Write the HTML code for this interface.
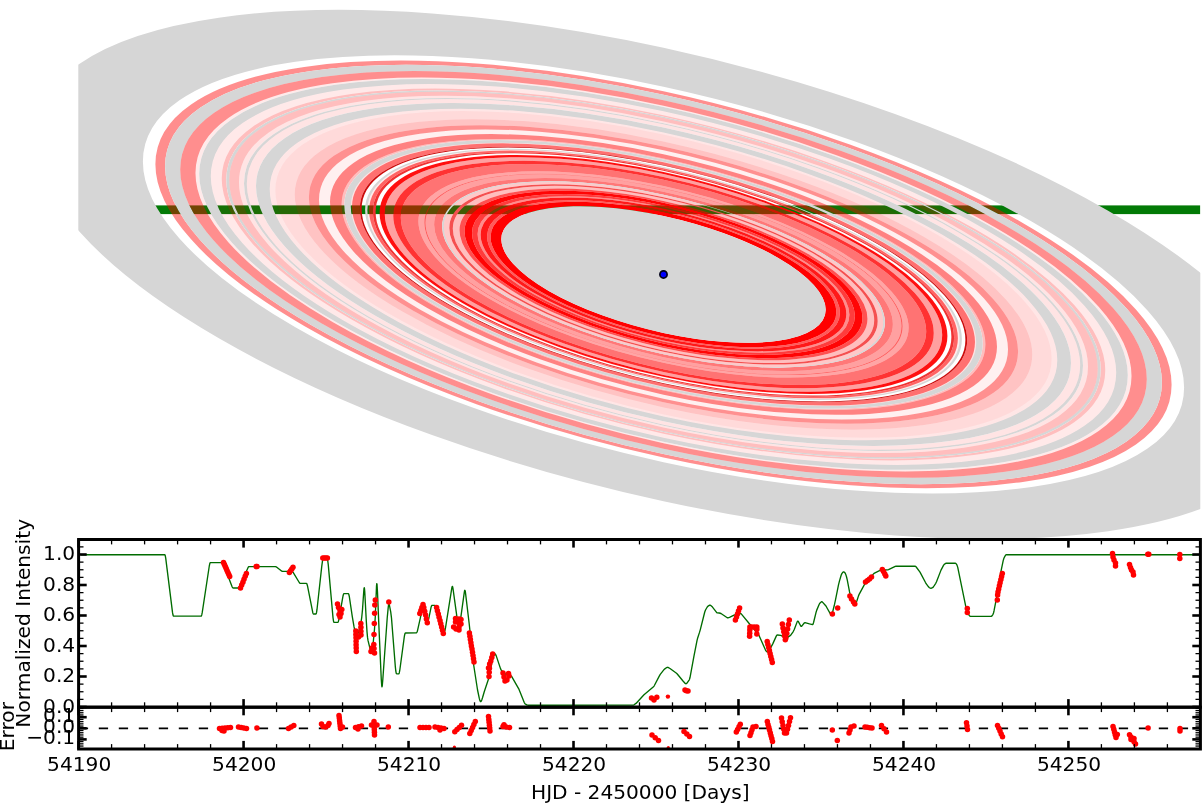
<!DOCTYPE html>
<html><head><meta charset="utf-8"><title>Ring model</title>
<style>
html,body{margin:0;padding:0;background:#fff;}
body{width:1203px;height:803px;overflow:hidden;position:relative;font-family:"DejaVu Sans","Liberation Sans",sans-serif;}
svg{position:absolute;left:0;top:0;}
</style></head><body>
<svg width="1203" height="803" viewBox="0 0 1203 803">
<defs><clipPath id="topclip"><rect x="78.3" y="0" width="1122" height="539.5"/></clipPath></defs>
<g clip-path="url(#topclip)">
<rect x="90" y="205.4" width="1110.4" height="8.7" fill="#027a06"/>
<g transform="matrix(1 0.217 0 0.3605 663.5 274.45)" fill="none">
<circle r="574.70" stroke="#d6d6d6" stroke-width="108.20"/>
<circle r="503.25" stroke="rgba(255,0,0,0.443)" stroke-width="9.70"/>
<circle r="490.85" stroke="#d6d6d6" stroke-width="15.10"/>
<circle r="475.65" stroke="rgba(255,0,0,0.443)" stroke-width="15.30"/>
<circle r="466.15" stroke="rgba(255,0,0,0.082)" stroke-width="3.70"/>
<circle r="458.50" stroke="#d6d6d6" stroke-width="11.60"/>
<circle r="447.25" stroke="rgba(255,0,0,0.086)" stroke-width="10.90"/>
<circle r="439.50" stroke="rgba(255,0,0,0.255)" stroke-width="4.60"/>
<circle r="435.75" stroke="#d6d6d6" stroke-width="2.90"/>
<circle r="429.40" stroke="rgba(255,0,0,0.255)" stroke-width="9.80"/>
<circle r="422.00" stroke="rgba(255,0,0,0.106)" stroke-width="5.00"/>
<circle r="418.10" stroke="#d6d6d6" stroke-width="2.80"/>
<circle r="412.10" stroke="rgba(255,0,0,0.106)" stroke-width="9.20"/>
<circle r="400.65" stroke="#d6d6d6" stroke-width="13.70"/>
<circle r="391.00" stroke="rgba(255,0,0,0.098)" stroke-width="5.60"/>
<circle r="378.50" stroke="rgba(255,0,0,0.145)" stroke-width="19.40"/>
<circle r="361.70" stroke="rgba(255,0,0,0.235)" stroke-width="14.20"/>
<circle r="349.55" stroke="rgba(255,0,0,0.435)" stroke-width="10.10"/>
<circle r="339.00" stroke="rgba(255,0,0,0.059)" stroke-width="11.00"/>
<circle r="327.70" stroke="rgba(255,0,0,0.490)" stroke-width="11.60"/>
<circle r="320.55" stroke="rgba(255,0,0,0.255)" stroke-width="2.70"/>
<circle r="315.95" stroke="#d6d6d6" stroke-width="6.50"/>
<circle r="312.10" stroke="rgba(255,0,0,0.118)" stroke-width="1.20"/>
<circle r="307.60" stroke="rgba(255,0,0,0.561)" stroke-width="7.80"/>
<circle r="302.80" stroke="#cc0c0c" stroke-width="1.80"/>
<circle r="297.25" stroke="#d6d6d6" stroke-width="2.30"/>
<circle r="295.25" stroke="rgba(255,0,0,0.078)" stroke-width="1.70"/>
<circle r="292.50" stroke="rgba(255,0,0,0.608)" stroke-width="3.80"/>
<circle r="289.25" stroke="#f03232" stroke-width="2.70"/>
<circle r="281.30" stroke="rgba(255,0,0,0.941)" stroke-width="5.20"/>
<circle r="274.50" stroke="rgba(255,0,0,0.373)" stroke-width="8.40"/>
<circle r="266.50" stroke="rgba(255,0,0,0.804)" stroke-width="7.60"/>
<circle r="253.90" stroke="rgba(255,0,0,0.549)" stroke-width="17.60"/>
<circle r="242.15" stroke="rgba(255,0,0,0.353)" stroke-width="5.90"/>
<circle r="238.55" stroke="rgba(255,0,0,0.627)" stroke-width="1.30"/>
<circle r="233.65" stroke="rgba(255,0,0,0.373)" stroke-width="8.50"/>
<circle r="225.40" stroke="rgba(255,0,0,0.529)" stroke-width="8.00"/>
<circle r="220.55" stroke="#d6d6d6" stroke-width="1.70"/>
<circle r="216.95" stroke="rgba(255,0,0,0.216)" stroke-width="5.50"/>
<circle r="212.45" stroke="#f55050" stroke-width="3.50"/>
<circle r="207.35" stroke="rgba(255,0,0,0.255)" stroke-width="6.70"/>
<circle r="201.50" stroke="rgba(255,0,0,0.686)" stroke-width="5.00"/>
<circle r="195.20" stroke="rgba(255,0,0,0.980)" stroke-width="7.60"/>
<circle r="188.65" stroke="rgba(255,0,0,0.765)" stroke-width="5.50"/>
<circle r="184.40" stroke="rgba(255,0,0,0.451)" stroke-width="3.00"/>
<circle r="179.65" stroke="rgba(255,0,0,0.902)" stroke-width="6.50"/>
<circle r="174.65" stroke="rgba(255,0,0,0.647)" stroke-width="3.50"/>
<circle r="167.55" stroke="rgba(255,0,0,1.000)" stroke-width="10.70"/>
<circle r="162.2" fill="#d6d6d6"/>
</g>
<circle cx="663.5" cy="274.45" r="3.6" fill="#0000ff" stroke="#000018" stroke-width="1.7"/>
</g>
<path d="M81.00,554.70 L164.75,554.70 L165.00,555.02 L165.25,555.74 L165.75,558.39 L172.50,612.41 L173.00,615.06 L173.25,615.78 L173.50,616.10 L201.00,616.10 L201.25,616.03 L201.50,615.64 L201.75,614.91 L202.25,612.47 L209.25,566.23 L209.75,563.79 L210.00,563.06 L210.25,562.67 L210.50,562.60 L222.25,562.60 L222.75,562.84 L223.00,563.15 L223.50,564.17 L232.00,586.43 L232.50,587.45 L233.00,587.95 L233.25,588.00 L238.25,588.00 L238.75,587.80 L239.00,587.53 L239.50,586.66 L248.00,567.71 L248.50,566.93 L249.00,566.60 L275.50,566.62 L276.00,566.76 L276.50,567.06 L281.50,570.94 L282.25,571.33 L282.75,571.40 L292.00,571.40 L292.25,571.48 L293.00,572.22 L299.25,582.50 L299.75,583.10 L300.25,583.38 L306.50,583.40 L306.75,583.65 L307.00,584.16 L307.50,585.95 L312.75,612.47 L313.00,613.24 L313.25,613.75 L313.50,614.00 L316.00,614.00 L316.25,613.55 L316.50,612.64 L317.00,609.47 L321.75,566.39 L322.50,560.89 L323.00,558.98 L323.50,558.32 L323.75,558.20 L326.75,558.23 L327.25,558.79 L327.50,559.48 L327.75,560.72 L328.25,564.67 L333.00,617.58 L333.50,621.06 L333.75,621.96 L334.00,622.30 L337.75,622.30 L338.00,622.19 L338.25,621.78 L338.50,621.09 L339.00,618.86 L342.75,597.33 L343.00,596.01 L343.50,594.23 L343.75,593.77 L344.00,593.60 L348.25,593.60 L348.50,593.74 L348.75,594.22 L349.25,596.22 L352.25,616.40 L354.00,626.63 L354.75,630.25 L355.50,632.71 L356.00,633.42 L356.25,633.50 L357.75,633.50 L358.00,633.33 L358.25,632.96 L358.75,631.58 L360.75,623.29 L361.25,620.69 L361.75,617.28 L362.50,609.59 L363.75,591.19 L364.00,588.51 L364.25,587.68 L364.50,588.71 L364.75,591.59 L366.25,620.19 L367.00,631.64 L367.50,637.16 L368.00,640.43 L370.50,650.56 L371.00,652.31 L371.50,653.24 L371.75,652.96 L372.00,652.07 L372.50,648.97 L373.50,639.73 L374.50,629.08 L375.25,617.20 L376.50,585.98 L376.75,583.60 L377.00,584.00 L377.50,592.24 L378.75,622.80 L381.25,678.94 L381.75,685.95 L382.00,686.86 L382.25,685.94 L382.75,680.19 L387.25,617.53 L388.25,607.11 L388.50,605.37 L388.75,604.35 L389.00,604.05 L389.25,604.48 L390.75,612.14 L391.50,618.11 L395.25,665.82 L395.75,670.75 L396.25,673.31 L396.50,673.64 L397.00,673.87 L398.75,673.90 L399.00,673.60 L399.25,672.93 L399.75,670.48 L404.25,637.09 L404.50,635.53 L405.00,633.52 L405.25,633.07 L405.50,632.99 L416.50,632.81 L416.75,632.58 L417.25,631.47 L417.50,630.57 L420.75,616.04 L422.25,607.70 L422.75,605.74 L423.00,605.31 L423.25,605.29 L423.50,605.50 L423.75,605.95 L424.25,607.59 L426.75,619.75 L427.00,620.72 L427.25,621.33 L427.50,621.59 L427.75,621.49 L428.00,621.04 L428.75,618.59 L431.00,607.51 L431.50,605.95 L431.75,605.55 L432.00,605.40 L434.75,605.40 L435.00,605.47 L435.25,605.70 L435.50,606.11 L436.00,607.42 L443.00,630.89 L443.50,631.98 L443.75,632.27 L444.00,632.30 L444.50,631.85 L444.75,631.25 L445.50,627.84 L451.75,588.40 L452.00,587.10 L452.25,586.47 L452.50,586.52 L452.75,587.25 L453.00,588.66 L457.50,621.09 L457.75,622.37 L458.25,624.05 L458.50,624.40 L458.75,624.55 L459.00,624.56 L459.50,624.18 L460.00,622.61 L460.25,621.38 L464.25,592.54 L464.50,591.03 L464.75,590.30 L465.00,590.36 L465.25,591.20 L465.50,592.83 L469.25,624.24 L473.00,659.26 L473.75,665.48 L477.50,689.74 L479.25,698.19 L479.75,699.96 L480.25,701.21 L480.50,701.52 L480.75,701.61 L481.00,701.47 L481.25,701.12 L481.75,699.97 L482.50,697.75 L484.25,691.78 L488.50,679.05 L489.25,675.99 L492.50,659.32 L493.00,657.45 L494.00,654.43 L494.25,653.95 L494.50,653.69 L494.75,653.64 L495.00,653.81 L495.50,654.41 L496.25,655.85 L500.50,668.64 L501.25,670.15 L505.50,674.05 L506.00,674.40 L506.50,674.63 L510.75,675.73 L511.25,675.99 L511.75,676.55 L518.75,688.81 L524.25,702.43 L524.75,703.42 L525.00,703.77 L525.50,704.16 L527.25,705.04 L528.00,705.20 L633.25,705.14 L634.00,704.81 L636.00,703.43 L644.00,694.74 L653.50,686.71 L654.00,686.09 L654.50,685.25 L659.25,676.15 L660.25,674.46 L664.00,669.59 L664.50,669.15 L666.75,667.56 L667.25,667.32 L667.50,667.29 L668.00,667.42 L670.00,668.53 L676.50,673.20 L677.25,673.96 L683.00,680.98 L685.25,683.49 L685.75,683.78 L686.25,683.66 L687.50,682.41 L689.25,679.76 L689.50,679.21 L690.00,677.52 L694.00,655.90 L697.00,640.62 L697.75,637.67 L699.50,632.40 L700.25,629.85 L704.75,612.01 L705.50,610.02 L707.25,607.00 L708.00,606.18 L709.75,605.13 L710.00,605.12 L710.50,605.32 L712.50,607.08 L716.75,612.58 L717.25,612.86 L719.25,613.00 L721.00,613.52 L727.25,617.72 L728.00,617.79 L729.50,617.45 L734.00,615.12 L734.75,614.83 L740.25,613.55 L740.75,613.57 L741.25,613.87 L750.00,624.51 L758.50,634.59 L759.25,635.93 L765.50,650.07 L766.00,650.91 L766.75,651.75 L767.25,652.02 L767.75,651.94 L768.75,651.13 L769.50,650.05 L772.75,643.85 L776.25,636.12 L776.75,635.31 L777.00,635.08 L777.50,634.97 L780.75,635.36 L781.50,635.73 L785.50,638.19 L786.00,638.31 L786.50,638.16 L790.50,635.38 L791.25,634.49 L793.25,631.55 L794.25,629.46 L797.25,621.63 L797.50,621.24 L797.75,621.08 L798.00,621.14 L798.25,621.42 L800.75,626.03 L801.00,626.31 L801.25,626.43 L801.50,626.39 L801.75,626.19 L804.25,622.99 L804.50,622.77 L805.00,622.56 L809.50,623.92 L812.50,624.67 L812.75,624.52 L813.00,624.15 L813.50,622.76 L816.00,612.57 L816.75,610.12 L819.00,604.69 L819.50,603.73 L820.00,603.06 L821.50,601.79 L822.00,601.73 L822.50,602.08 L825.50,605.46 L826.50,606.98 L830.50,614.14 L831.00,614.63 L831.50,614.68 L832.00,613.95 L832.50,612.50 L834.50,604.48 L835.50,599.90 L838.50,584.93 L839.50,580.85 L841.00,575.71 L841.50,574.32 L842.00,573.34 L842.75,572.36 L843.00,572.07 L843.50,571.81 L844.00,571.97 L844.75,572.57 L845.25,573.26 L845.75,574.40 L846.50,576.72 L847.25,579.83 L849.50,591.71 L850.00,593.86 L850.50,595.47 L852.50,600.69 L853.00,601.76 L853.50,602.50 L854.25,603.25 L854.75,603.55 L855.00,603.54 L855.50,603.19 L856.00,602.59 L856.50,601.72 L857.00,600.46 L858.50,595.88 L859.25,594.09 L864.25,584.91 L865.25,583.39 L873.75,573.64 L874.50,573.15 L880.50,570.17 L881.25,570.00 L887.75,569.94 L888.50,569.66 L895.25,566.42 L896.00,566.22 L915.00,566.10 L915.25,566.17 L916.00,566.76 L920.00,572.09 L925.50,582.54 L926.50,584.17 L928.50,586.83 L929.00,587.37 L929.50,587.74 L930.25,588.09 L931.00,588.26 L931.50,588.14 L932.50,587.71 L933.00,587.34 L933.50,586.75 L935.75,583.32 L936.50,581.70 L941.00,570.12 L943.50,565.42 L944.25,564.39 L945.50,563.49 L946.25,563.22 L955.50,563.24 L955.75,563.36 L956.25,563.87 L957.00,565.12 L957.75,567.39 L965.75,606.31 L966.25,608.15 L967.75,612.66 L968.25,613.81 L969.25,615.44 L970.00,616.19 L970.50,616.30 L991.25,616.30 L991.50,616.23 L992.00,615.86 L993.00,614.32 L993.50,612.99 L994.00,610.98 L996.00,600.63 L1000.75,572.36 L1003.25,560.34 L1004.00,558.02 L1005.00,556.07 L1005.50,555.23 L1006.00,554.78 L1006.25,554.70 L1198.75,554.70" fill="none" stroke="#006c00" stroke-width="1.35" stroke-linejoin="round"/>
<line x1="78.8" y1="728.3" x2="1200.4" y2="728.3" stroke="#000" stroke-width="1.7" stroke-dasharray="9.3 10.7"/>
<g fill="#ff0000">
<circle cx="223.5" cy="562.6" r="2.75"/>
<circle cx="224.4" cy="564.6" r="2.75"/>
<circle cx="225.3" cy="566.6" r="2.75"/>
<circle cx="226.2" cy="568.6" r="2.75"/>
<circle cx="227.0" cy="570.6" r="2.75"/>
<circle cx="227.9" cy="572.6" r="2.75"/>
<circle cx="228.8" cy="574.6" r="2.75"/>
<circle cx="229.7" cy="576.6" r="2.75"/>
<circle cx="240.5" cy="588.0" r="2.75"/>
<circle cx="241.7" cy="585.1" r="2.75"/>
<circle cx="242.9" cy="582.2" r="2.75"/>
<circle cx="244.0" cy="579.2" r="2.75"/>
<circle cx="245.2" cy="576.3" r="2.75"/>
<circle cx="246.4" cy="573.4" r="2.75"/>
<circle cx="256.2" cy="566.6" r="2.75"/>
<circle cx="257.0" cy="566.6" r="2.75"/>
<circle cx="289.4" cy="572.4" r="2.75"/>
<circle cx="290.6" cy="570.7" r="2.75"/>
<circle cx="291.8" cy="568.9" r="2.75"/>
<circle cx="293.0" cy="567.2" r="2.75"/>
<circle cx="322.8" cy="558.0" r="2.75"/>
<circle cx="324.3" cy="558.0" r="2.75"/>
<circle cx="325.9" cy="558.0" r="2.75"/>
<circle cx="327.4" cy="558.0" r="2.75"/>
<circle cx="337.5" cy="604.0" r="2.75"/>
<circle cx="338.5" cy="607.5" r="2.75"/>
<circle cx="340.0" cy="610.5" r="2.75"/>
<circle cx="341.0" cy="613.5" r="2.75"/>
<circle cx="340.0" cy="617.0" r="2.75"/>
<circle cx="341.8" cy="609.5" r="2.75"/>
<circle cx="339.0" cy="614.5" r="2.75"/>
<circle cx="355.8" cy="631.0" r="2.75"/>
<circle cx="355.9" cy="634.4" r="2.75"/>
<circle cx="356.0" cy="637.8" r="2.75"/>
<circle cx="356.1" cy="641.2" r="2.75"/>
<circle cx="356.1" cy="644.7" r="2.75"/>
<circle cx="356.2" cy="648.1" r="2.75"/>
<circle cx="356.3" cy="651.5" r="2.75"/>
<circle cx="360.8" cy="623.5" r="2.75"/>
<circle cx="360.9" cy="627.3" r="2.75"/>
<circle cx="360.9" cy="631.2" r="2.75"/>
<circle cx="361.0" cy="635.0" r="2.75"/>
<circle cx="358.5" cy="637.0" r="2.75"/>
<circle cx="375.3" cy="599.9" r="2.75"/>
<circle cx="374.8" cy="604.9" r="2.75"/>
<circle cx="374.6" cy="613.3" r="2.75"/>
<circle cx="374.3" cy="623.5" r="2.75"/>
<circle cx="374.0" cy="634.5" r="2.75"/>
<circle cx="373.8" cy="644.5" r="2.75"/>
<circle cx="372.0" cy="648.0" r="2.75"/>
<circle cx="371.0" cy="651.5" r="2.75"/>
<circle cx="374.0" cy="648.5" r="2.75"/>
<circle cx="374.5" cy="653.0" r="2.75"/>
<circle cx="388.8" cy="602.0" r="2.75"/>
<circle cx="419.8" cy="613.5" r="2.75"/>
<circle cx="420.9" cy="610.5" r="2.75"/>
<circle cx="421.9" cy="607.6" r="2.75"/>
<circle cx="423.0" cy="604.6" r="2.75"/>
<circle cx="423.8" cy="607.5" r="2.75"/>
<circle cx="424.7" cy="611.3" r="2.75"/>
<circle cx="425.6" cy="615.1" r="2.75"/>
<circle cx="426.4" cy="619.0" r="2.75"/>
<circle cx="427.3" cy="622.8" r="2.75"/>
<circle cx="436.6" cy="607.5" r="2.75"/>
<circle cx="437.4" cy="610.8" r="2.75"/>
<circle cx="438.3" cy="614.0" r="2.75"/>
<circle cx="439.1" cy="617.2" r="2.75"/>
<circle cx="440.0" cy="620.5" r="2.75"/>
<circle cx="440.8" cy="623.8" r="2.75"/>
<circle cx="441.6" cy="627.0" r="2.75"/>
<circle cx="442.5" cy="630.2" r="2.75"/>
<circle cx="443.3" cy="633.5" r="2.75"/>
<circle cx="455.5" cy="618.5" r="2.75"/>
<circle cx="455.5" cy="622.0" r="2.75"/>
<circle cx="453.6" cy="627.0" r="2.75"/>
<circle cx="456.0" cy="629.0" r="2.75"/>
<circle cx="459.0" cy="619.0" r="2.75"/>
<circle cx="459.0" cy="623.0" r="2.75"/>
<circle cx="459.0" cy="627.0" r="2.75"/>
<circle cx="459.0" cy="630.0" r="2.75"/>
<circle cx="461.0" cy="619.5" r="2.75"/>
<circle cx="461.0" cy="624.0" r="2.75"/>
<circle cx="457.0" cy="620.5" r="2.75"/>
<circle cx="469.4" cy="633.0" r="2.75"/>
<circle cx="469.9" cy="636.2" r="2.75"/>
<circle cx="470.4" cy="639.4" r="2.75"/>
<circle cx="470.9" cy="642.7" r="2.75"/>
<circle cx="471.4" cy="645.9" r="2.75"/>
<circle cx="472.0" cy="649.1" r="2.75"/>
<circle cx="472.5" cy="652.3" r="2.75"/>
<circle cx="473.0" cy="655.6" r="2.75"/>
<circle cx="473.5" cy="658.8" r="2.75"/>
<circle cx="474.0" cy="662.0" r="2.75"/>
<circle cx="489.0" cy="676.5" r="2.75"/>
<circle cx="489.2" cy="672.3" r="2.75"/>
<circle cx="489.4" cy="668.2" r="2.75"/>
<circle cx="489.6" cy="664.0" r="2.75"/>
<circle cx="490.8" cy="661.0" r="2.75"/>
<circle cx="491.8" cy="657.5" r="2.75"/>
<circle cx="492.7" cy="654.0" r="2.75"/>
<circle cx="488.5" cy="668.0" r="2.75"/>
<circle cx="503.0" cy="673.0" r="2.75"/>
<circle cx="504.0" cy="677.0" r="2.75"/>
<circle cx="505.0" cy="681.0" r="2.75"/>
<circle cx="507.0" cy="680.0" r="2.75"/>
<circle cx="509.0" cy="676.0" r="2.75"/>
<circle cx="508.5" cy="673.5" r="2.75"/>
<circle cx="651.5" cy="698.0" r="2.75"/>
<circle cx="654.0" cy="700.0" r="2.75"/>
<circle cx="656.8" cy="697.3" r="2.75"/>
<circle cx="686.3" cy="690.8" r="2.75"/>
<circle cx="685.0" cy="690.0" r="2.75"/>
<circle cx="688.0" cy="691.0" r="2.75"/>
<circle cx="735.4" cy="619.9" r="2.75"/>
<circle cx="736.5" cy="616.9" r="2.75"/>
<circle cx="737.5" cy="613.9" r="2.75"/>
<circle cx="738.5" cy="610.9" r="2.75"/>
<circle cx="739.6" cy="607.9" r="2.75"/>
<circle cx="749.9" cy="626.9" r="2.75"/>
<circle cx="749.8" cy="630.0" r="2.75"/>
<circle cx="749.7" cy="633.2" r="2.75"/>
<circle cx="749.6" cy="636.3" r="2.75"/>
<circle cx="751.5" cy="627.0" r="2.75"/>
<circle cx="754.1" cy="627.0" r="2.75"/>
<circle cx="756.8" cy="627.0" r="2.75"/>
<circle cx="756.8" cy="629.5" r="2.75"/>
<circle cx="756.8" cy="633.9" r="2.75"/>
<circle cx="767.2" cy="641.5" r="2.75"/>
<circle cx="767.9" cy="644.5" r="2.75"/>
<circle cx="768.7" cy="647.5" r="2.75"/>
<circle cx="769.4" cy="650.5" r="2.75"/>
<circle cx="770.1" cy="653.5" r="2.75"/>
<circle cx="770.8" cy="656.5" r="2.75"/>
<circle cx="771.6" cy="659.5" r="2.75"/>
<circle cx="772.3" cy="662.5" r="2.75"/>
<circle cx="782.3" cy="623.9" r="2.75"/>
<circle cx="783.0" cy="627.9" r="2.75"/>
<circle cx="783.8" cy="631.8" r="2.75"/>
<circle cx="784.5" cy="635.8" r="2.75"/>
<circle cx="785.3" cy="639.8" r="2.75"/>
<circle cx="789.3" cy="619.9" r="2.75"/>
<circle cx="788.4" cy="624.4" r="2.75"/>
<circle cx="787.6" cy="629.0" r="2.75"/>
<circle cx="786.8" cy="633.5" r="2.75"/>
<circle cx="785.9" cy="638.0" r="2.75"/>
<circle cx="832.4" cy="613.9" r="2.75"/>
<circle cx="837.7" cy="608.0" r="2.75"/>
<circle cx="849.9" cy="596.0" r="2.75"/>
<circle cx="851.5" cy="599.0" r="2.75"/>
<circle cx="853.5" cy="602.0" r="2.75"/>
<circle cx="854.8" cy="604.0" r="2.75"/>
<circle cx="865.5" cy="582.0" r="2.75"/>
<circle cx="867.5" cy="580.5" r="2.75"/>
<circle cx="869.5" cy="579.0" r="2.75"/>
<circle cx="871.5" cy="577.0" r="2.75"/>
<circle cx="882.3" cy="569.5" r="2.75"/>
<circle cx="883.5" cy="571.5" r="2.75"/>
<circle cx="884.8" cy="574.0" r="2.75"/>
<circle cx="885.8" cy="576.0" r="2.75"/>
<circle cx="967.3" cy="608.5" r="2.75"/>
<circle cx="967.3" cy="612.5" r="2.75"/>
<circle cx="997.3" cy="599.9" r="2.75"/>
<circle cx="997.6" cy="594.9" r="2.75"/>
<circle cx="998.0" cy="592.0" r="2.75"/>
<circle cx="998.7" cy="588.9" r="2.75"/>
<circle cx="999.4" cy="585.8" r="2.75"/>
<circle cx="1000.1" cy="582.7" r="2.75"/>
<circle cx="1000.9" cy="579.6" r="2.75"/>
<circle cx="1001.6" cy="576.5" r="2.75"/>
<circle cx="1002.3" cy="573.4" r="2.75"/>
<circle cx="1112.5" cy="553.5" r="2.75"/>
<circle cx="1113.0" cy="557.0" r="2.75"/>
<circle cx="1114.0" cy="560.0" r="2.75"/>
<circle cx="1115.5" cy="563.0" r="2.75"/>
<circle cx="1115.5" cy="566.0" r="2.75"/>
<circle cx="1129.5" cy="564.5" r="2.75"/>
<circle cx="1130.5" cy="567.5" r="2.75"/>
<circle cx="1131.5" cy="570.0" r="2.75"/>
<circle cx="1133.0" cy="572.0" r="2.75"/>
<circle cx="1133.5" cy="575.0" r="2.75"/>
<circle cx="1147.8" cy="554.2" r="2.75"/>
<circle cx="1148.8" cy="554.2" r="2.75"/>
<circle cx="1179.8" cy="554.5" r="2.75"/>
<circle cx="1179.8" cy="558.5" r="2.75"/>
<circle cx="667.9" cy="696.6" r="2.2"/>
<circle cx="219.5" cy="728.5" r="2.75"/>
<circle cx="222.2" cy="728.2" r="2.75"/>
<circle cx="225.0" cy="728.0" r="2.75"/>
<circle cx="227.8" cy="727.8" r="2.75"/>
<circle cx="230.5" cy="727.5" r="2.75"/>
<circle cx="222.0" cy="730.5" r="2.75"/>
<circle cx="224.0" cy="731.0" r="2.75"/>
<circle cx="238.5" cy="727.0" r="2.75"/>
<circle cx="241.2" cy="727.5" r="2.75"/>
<circle cx="243.8" cy="728.0" r="2.75"/>
<circle cx="246.5" cy="728.5" r="2.75"/>
<circle cx="256.9" cy="728.0" r="2.75"/>
<circle cx="288.5" cy="728.5" r="2.75"/>
<circle cx="291.1" cy="727.0" r="2.75"/>
<circle cx="293.8" cy="725.5" r="2.75"/>
<circle cx="321.5" cy="724.0" r="2.75"/>
<circle cx="323.0" cy="726.5" r="2.75"/>
<circle cx="325.5" cy="727.0" r="2.75"/>
<circle cx="328.0" cy="725.5" r="2.75"/>
<circle cx="329.0" cy="723.5" r="2.75"/>
<circle cx="339.0" cy="715.5" r="2.75"/>
<circle cx="339.3" cy="718.1" r="2.75"/>
<circle cx="339.6" cy="720.7" r="2.75"/>
<circle cx="339.9" cy="723.3" r="2.75"/>
<circle cx="340.2" cy="725.9" r="2.75"/>
<circle cx="340.5" cy="728.5" r="2.75"/>
<circle cx="342.5" cy="727.0" r="2.75"/>
<circle cx="355.5" cy="727.5" r="2.75"/>
<circle cx="358.5" cy="726.8" r="2.75"/>
<circle cx="361.5" cy="726.0" r="2.75"/>
<circle cx="358.0" cy="729.0" r="2.75"/>
<circle cx="374.0" cy="721.5" r="2.75"/>
<circle cx="374.1" cy="724.2" r="2.75"/>
<circle cx="374.2" cy="726.9" r="2.75"/>
<circle cx="374.3" cy="729.6" r="2.75"/>
<circle cx="374.4" cy="732.3" r="2.75"/>
<circle cx="374.5" cy="735.0" r="2.75"/>
<circle cx="371.5" cy="725.0" r="2.75"/>
<circle cx="377.0" cy="725.0" r="2.75"/>
<circle cx="388.3" cy="727.0" r="2.75"/>
<circle cx="420.0" cy="727.5" r="2.75"/>
<circle cx="423.0" cy="727.5" r="2.75"/>
<circle cx="426.0" cy="727.5" r="2.75"/>
<circle cx="429.0" cy="727.5" r="2.75"/>
<circle cx="435.0" cy="727.0" r="2.75"/>
<circle cx="438.0" cy="727.5" r="2.75"/>
<circle cx="441.0" cy="728.0" r="2.75"/>
<circle cx="444.0" cy="728.5" r="2.75"/>
<circle cx="440.0" cy="730.0" r="2.75"/>
<circle cx="454.8" cy="731.8" r="2.75"/>
<circle cx="457.0" cy="729.6" r="2.75"/>
<circle cx="459.3" cy="727.4" r="2.75"/>
<circle cx="461.5" cy="725.2" r="2.75"/>
<circle cx="469.8" cy="733.4" r="2.75"/>
<circle cx="471.2" cy="730.4" r="2.75"/>
<circle cx="472.6" cy="727.4" r="2.75"/>
<circle cx="473.9" cy="724.4" r="2.75"/>
<circle cx="475.3" cy="721.4" r="2.75"/>
<circle cx="488.5" cy="716.5" r="2.75"/>
<circle cx="488.8" cy="719.4" r="2.75"/>
<circle cx="489.1" cy="722.3" r="2.75"/>
<circle cx="489.4" cy="725.2" r="2.75"/>
<circle cx="489.7" cy="728.1" r="2.75"/>
<circle cx="490.0" cy="731.0" r="2.75"/>
<circle cx="503.0" cy="726.5" r="2.75"/>
<circle cx="506.2" cy="727.0" r="2.75"/>
<circle cx="509.5" cy="727.5" r="2.75"/>
<circle cx="504.0" cy="724.8" r="2.75"/>
<circle cx="652.0" cy="735.0" r="2.75"/>
<circle cx="655.2" cy="737.8" r="2.75"/>
<circle cx="658.5" cy="740.5" r="2.75"/>
<circle cx="684.0" cy="731.5" r="2.75"/>
<circle cx="686.8" cy="734.0" r="2.75"/>
<circle cx="689.5" cy="736.5" r="2.75"/>
<circle cx="736.3" cy="732.0" r="2.75"/>
<circle cx="737.6" cy="729.4" r="2.75"/>
<circle cx="739.0" cy="726.8" r="2.75"/>
<circle cx="740.3" cy="724.2" r="2.75"/>
<circle cx="750.0" cy="735.5" r="2.75"/>
<circle cx="751.0" cy="732.7" r="2.75"/>
<circle cx="752.0" cy="729.8" r="2.75"/>
<circle cx="753.0" cy="727.0" r="2.75"/>
<circle cx="756.0" cy="726.5" r="2.75"/>
<circle cx="767.3" cy="721.5" r="2.75"/>
<circle cx="768.0" cy="724.4" r="2.75"/>
<circle cx="768.8" cy="727.2" r="2.75"/>
<circle cx="769.5" cy="730.1" r="2.75"/>
<circle cx="770.3" cy="732.9" r="2.75"/>
<circle cx="771.0" cy="735.8" r="2.75"/>
<circle cx="771.8" cy="738.6" r="2.75"/>
<circle cx="772.5" cy="741.5" r="2.75"/>
<circle cx="781.5" cy="718.0" r="2.75"/>
<circle cx="782.2" cy="721.8" r="2.75"/>
<circle cx="783.0" cy="725.5" r="2.75"/>
<circle cx="783.8" cy="729.2" r="2.75"/>
<circle cx="784.5" cy="733.0" r="2.75"/>
<circle cx="790.5" cy="717.8" r="2.75"/>
<circle cx="789.5" cy="721.6" r="2.75"/>
<circle cx="788.5" cy="725.4" r="2.75"/>
<circle cx="787.5" cy="729.2" r="2.75"/>
<circle cx="786.5" cy="733.0" r="2.75"/>
<circle cx="832.3" cy="730.0" r="2.75"/>
<circle cx="837.3" cy="740.6" r="2.75"/>
<circle cx="849.0" cy="733.0" r="2.75"/>
<circle cx="850.0" cy="730.0" r="2.75"/>
<circle cx="851.0" cy="727.0" r="2.75"/>
<circle cx="854.0" cy="726.0" r="2.75"/>
<circle cx="865.0" cy="727.0" r="2.75"/>
<circle cx="867.3" cy="727.3" r="2.75"/>
<circle cx="869.7" cy="727.7" r="2.75"/>
<circle cx="872.0" cy="728.0" r="2.75"/>
<circle cx="881.5" cy="725.5" r="2.75"/>
<circle cx="884.0" cy="728.8" r="2.75"/>
<circle cx="886.5" cy="732.0" r="2.75"/>
<circle cx="966.5" cy="722.8" r="2.75"/>
<circle cx="967.0" cy="726.1" r="2.75"/>
<circle cx="967.5" cy="729.5" r="2.75"/>
<circle cx="997.5" cy="725.5" r="2.75"/>
<circle cx="998.8" cy="728.3" r="2.75"/>
<circle cx="1000.0" cy="731.1" r="2.75"/>
<circle cx="1001.2" cy="734.0" r="2.75"/>
<circle cx="1002.5" cy="736.8" r="2.75"/>
<circle cx="1113.0" cy="726.5" r="2.75"/>
<circle cx="1113.8" cy="729.2" r="2.75"/>
<circle cx="1114.5" cy="732.0" r="2.75"/>
<circle cx="1115.2" cy="734.8" r="2.75"/>
<circle cx="1116.0" cy="737.5" r="2.75"/>
<circle cx="1117.3" cy="734.5" r="2.75"/>
<circle cx="1129.5" cy="734.8" r="2.75"/>
<circle cx="1131.0" cy="737.1" r="2.75"/>
<circle cx="1132.5" cy="739.4" r="2.75"/>
<circle cx="1134.0" cy="741.7" r="2.75"/>
<circle cx="1135.5" cy="744.0" r="2.75"/>
<circle cx="1134.0" cy="738.5" r="2.75"/>
<circle cx="1131.0" cy="739.5" r="2.75"/>
<circle cx="1148.1" cy="728.0" r="2.75"/>
<circle cx="1180.0" cy="728.5" r="2.75"/>
<circle cx="1180.0" cy="731.0" r="2.75"/>
<circle cx="454.4" cy="747.2" r="1.6"/>
<circle cx="668.3" cy="747.6" r="1.6"/>
</g>
<g stroke="#000"><line x1="78.60" y1="539.50" x2="78.60" y2="547.60" stroke-width="2.6"/><line x1="78.60" y1="707.20" x2="78.60" y2="699.10" stroke-width="2.6"/><line x1="78.60" y1="707.20" x2="78.60" y2="715.30" stroke-width="2.6"/><line x1="78.60" y1="749.00" x2="78.60" y2="740.90" stroke-width="2.6"/><line x1="111.59" y1="539.50" x2="111.59" y2="544.40" stroke-width="1.3"/><line x1="111.59" y1="707.20" x2="111.59" y2="702.30" stroke-width="1.3"/><line x1="111.59" y1="707.20" x2="111.59" y2="712.10" stroke-width="1.3"/><line x1="111.59" y1="749.00" x2="111.59" y2="744.10" stroke-width="1.3"/><line x1="144.59" y1="539.50" x2="144.59" y2="544.40" stroke-width="1.3"/><line x1="144.59" y1="707.20" x2="144.59" y2="702.30" stroke-width="1.3"/><line x1="144.59" y1="707.20" x2="144.59" y2="712.10" stroke-width="1.3"/><line x1="144.59" y1="749.00" x2="144.59" y2="744.10" stroke-width="1.3"/><line x1="177.58" y1="539.50" x2="177.58" y2="544.40" stroke-width="1.3"/><line x1="177.58" y1="707.20" x2="177.58" y2="702.30" stroke-width="1.3"/><line x1="177.58" y1="707.20" x2="177.58" y2="712.10" stroke-width="1.3"/><line x1="177.58" y1="749.00" x2="177.58" y2="744.10" stroke-width="1.3"/><line x1="210.58" y1="539.50" x2="210.58" y2="544.40" stroke-width="1.3"/><line x1="210.58" y1="707.20" x2="210.58" y2="702.30" stroke-width="1.3"/><line x1="210.58" y1="707.20" x2="210.58" y2="712.10" stroke-width="1.3"/><line x1="210.58" y1="749.00" x2="210.58" y2="744.10" stroke-width="1.3"/><line x1="243.57" y1="539.50" x2="243.57" y2="547.60" stroke-width="2.6"/><line x1="243.57" y1="707.20" x2="243.57" y2="699.10" stroke-width="2.6"/><line x1="243.57" y1="707.20" x2="243.57" y2="715.30" stroke-width="2.6"/><line x1="243.57" y1="749.00" x2="243.57" y2="740.90" stroke-width="2.6"/><line x1="276.56" y1="539.50" x2="276.56" y2="544.40" stroke-width="1.3"/><line x1="276.56" y1="707.20" x2="276.56" y2="702.30" stroke-width="1.3"/><line x1="276.56" y1="707.20" x2="276.56" y2="712.10" stroke-width="1.3"/><line x1="276.56" y1="749.00" x2="276.56" y2="744.10" stroke-width="1.3"/><line x1="309.56" y1="539.50" x2="309.56" y2="544.40" stroke-width="1.3"/><line x1="309.56" y1="707.20" x2="309.56" y2="702.30" stroke-width="1.3"/><line x1="309.56" y1="707.20" x2="309.56" y2="712.10" stroke-width="1.3"/><line x1="309.56" y1="749.00" x2="309.56" y2="744.10" stroke-width="1.3"/><line x1="342.55" y1="539.50" x2="342.55" y2="544.40" stroke-width="1.3"/><line x1="342.55" y1="707.20" x2="342.55" y2="702.30" stroke-width="1.3"/><line x1="342.55" y1="707.20" x2="342.55" y2="712.10" stroke-width="1.3"/><line x1="342.55" y1="749.00" x2="342.55" y2="744.10" stroke-width="1.3"/><line x1="375.55" y1="539.50" x2="375.55" y2="544.40" stroke-width="1.3"/><line x1="375.55" y1="707.20" x2="375.55" y2="702.30" stroke-width="1.3"/><line x1="375.55" y1="707.20" x2="375.55" y2="712.10" stroke-width="1.3"/><line x1="375.55" y1="749.00" x2="375.55" y2="744.10" stroke-width="1.3"/><line x1="408.54" y1="539.50" x2="408.54" y2="547.60" stroke-width="2.6"/><line x1="408.54" y1="707.20" x2="408.54" y2="699.10" stroke-width="2.6"/><line x1="408.54" y1="707.20" x2="408.54" y2="715.30" stroke-width="2.6"/><line x1="408.54" y1="749.00" x2="408.54" y2="740.90" stroke-width="2.6"/><line x1="441.53" y1="539.50" x2="441.53" y2="544.40" stroke-width="1.3"/><line x1="441.53" y1="707.20" x2="441.53" y2="702.30" stroke-width="1.3"/><line x1="441.53" y1="707.20" x2="441.53" y2="712.10" stroke-width="1.3"/><line x1="441.53" y1="749.00" x2="441.53" y2="744.10" stroke-width="1.3"/><line x1="474.53" y1="539.50" x2="474.53" y2="544.40" stroke-width="1.3"/><line x1="474.53" y1="707.20" x2="474.53" y2="702.30" stroke-width="1.3"/><line x1="474.53" y1="707.20" x2="474.53" y2="712.10" stroke-width="1.3"/><line x1="474.53" y1="749.00" x2="474.53" y2="744.10" stroke-width="1.3"/><line x1="507.52" y1="539.50" x2="507.52" y2="544.40" stroke-width="1.3"/><line x1="507.52" y1="707.20" x2="507.52" y2="702.30" stroke-width="1.3"/><line x1="507.52" y1="707.20" x2="507.52" y2="712.10" stroke-width="1.3"/><line x1="507.52" y1="749.00" x2="507.52" y2="744.10" stroke-width="1.3"/><line x1="540.52" y1="539.50" x2="540.52" y2="544.40" stroke-width="1.3"/><line x1="540.52" y1="707.20" x2="540.52" y2="702.30" stroke-width="1.3"/><line x1="540.52" y1="707.20" x2="540.52" y2="712.10" stroke-width="1.3"/><line x1="540.52" y1="749.00" x2="540.52" y2="744.10" stroke-width="1.3"/><line x1="573.51" y1="539.50" x2="573.51" y2="547.60" stroke-width="2.6"/><line x1="573.51" y1="707.20" x2="573.51" y2="699.10" stroke-width="2.6"/><line x1="573.51" y1="707.20" x2="573.51" y2="715.30" stroke-width="2.6"/><line x1="573.51" y1="749.00" x2="573.51" y2="740.90" stroke-width="2.6"/><line x1="606.50" y1="539.50" x2="606.50" y2="544.40" stroke-width="1.3"/><line x1="606.50" y1="707.20" x2="606.50" y2="702.30" stroke-width="1.3"/><line x1="606.50" y1="707.20" x2="606.50" y2="712.10" stroke-width="1.3"/><line x1="606.50" y1="749.00" x2="606.50" y2="744.10" stroke-width="1.3"/><line x1="639.50" y1="539.50" x2="639.50" y2="544.40" stroke-width="1.3"/><line x1="639.50" y1="707.20" x2="639.50" y2="702.30" stroke-width="1.3"/><line x1="639.50" y1="707.20" x2="639.50" y2="712.10" stroke-width="1.3"/><line x1="639.50" y1="749.00" x2="639.50" y2="744.10" stroke-width="1.3"/><line x1="672.49" y1="539.50" x2="672.49" y2="544.40" stroke-width="1.3"/><line x1="672.49" y1="707.20" x2="672.49" y2="702.30" stroke-width="1.3"/><line x1="672.49" y1="707.20" x2="672.49" y2="712.10" stroke-width="1.3"/><line x1="672.49" y1="749.00" x2="672.49" y2="744.10" stroke-width="1.3"/><line x1="705.49" y1="539.50" x2="705.49" y2="544.40" stroke-width="1.3"/><line x1="705.49" y1="707.20" x2="705.49" y2="702.30" stroke-width="1.3"/><line x1="705.49" y1="707.20" x2="705.49" y2="712.10" stroke-width="1.3"/><line x1="705.49" y1="749.00" x2="705.49" y2="744.10" stroke-width="1.3"/><line x1="738.48" y1="539.50" x2="738.48" y2="547.60" stroke-width="2.6"/><line x1="738.48" y1="707.20" x2="738.48" y2="699.10" stroke-width="2.6"/><line x1="738.48" y1="707.20" x2="738.48" y2="715.30" stroke-width="2.6"/><line x1="738.48" y1="749.00" x2="738.48" y2="740.90" stroke-width="2.6"/><line x1="771.47" y1="539.50" x2="771.47" y2="544.40" stroke-width="1.3"/><line x1="771.47" y1="707.20" x2="771.47" y2="702.30" stroke-width="1.3"/><line x1="771.47" y1="707.20" x2="771.47" y2="712.10" stroke-width="1.3"/><line x1="771.47" y1="749.00" x2="771.47" y2="744.10" stroke-width="1.3"/><line x1="804.47" y1="539.50" x2="804.47" y2="544.40" stroke-width="1.3"/><line x1="804.47" y1="707.20" x2="804.47" y2="702.30" stroke-width="1.3"/><line x1="804.47" y1="707.20" x2="804.47" y2="712.10" stroke-width="1.3"/><line x1="804.47" y1="749.00" x2="804.47" y2="744.10" stroke-width="1.3"/><line x1="837.46" y1="539.50" x2="837.46" y2="544.40" stroke-width="1.3"/><line x1="837.46" y1="707.20" x2="837.46" y2="702.30" stroke-width="1.3"/><line x1="837.46" y1="707.20" x2="837.46" y2="712.10" stroke-width="1.3"/><line x1="837.46" y1="749.00" x2="837.46" y2="744.10" stroke-width="1.3"/><line x1="870.46" y1="539.50" x2="870.46" y2="544.40" stroke-width="1.3"/><line x1="870.46" y1="707.20" x2="870.46" y2="702.30" stroke-width="1.3"/><line x1="870.46" y1="707.20" x2="870.46" y2="712.10" stroke-width="1.3"/><line x1="870.46" y1="749.00" x2="870.46" y2="744.10" stroke-width="1.3"/><line x1="903.45" y1="539.50" x2="903.45" y2="547.60" stroke-width="2.6"/><line x1="903.45" y1="707.20" x2="903.45" y2="699.10" stroke-width="2.6"/><line x1="903.45" y1="707.20" x2="903.45" y2="715.30" stroke-width="2.6"/><line x1="903.45" y1="749.00" x2="903.45" y2="740.90" stroke-width="2.6"/><line x1="936.44" y1="539.50" x2="936.44" y2="544.40" stroke-width="1.3"/><line x1="936.44" y1="707.20" x2="936.44" y2="702.30" stroke-width="1.3"/><line x1="936.44" y1="707.20" x2="936.44" y2="712.10" stroke-width="1.3"/><line x1="936.44" y1="749.00" x2="936.44" y2="744.10" stroke-width="1.3"/><line x1="969.44" y1="539.50" x2="969.44" y2="544.40" stroke-width="1.3"/><line x1="969.44" y1="707.20" x2="969.44" y2="702.30" stroke-width="1.3"/><line x1="969.44" y1="707.20" x2="969.44" y2="712.10" stroke-width="1.3"/><line x1="969.44" y1="749.00" x2="969.44" y2="744.10" stroke-width="1.3"/><line x1="1002.43" y1="539.50" x2="1002.43" y2="544.40" stroke-width="1.3"/><line x1="1002.43" y1="707.20" x2="1002.43" y2="702.30" stroke-width="1.3"/><line x1="1002.43" y1="707.20" x2="1002.43" y2="712.10" stroke-width="1.3"/><line x1="1002.43" y1="749.00" x2="1002.43" y2="744.10" stroke-width="1.3"/><line x1="1035.43" y1="539.50" x2="1035.43" y2="544.40" stroke-width="1.3"/><line x1="1035.43" y1="707.20" x2="1035.43" y2="702.30" stroke-width="1.3"/><line x1="1035.43" y1="707.20" x2="1035.43" y2="712.10" stroke-width="1.3"/><line x1="1035.43" y1="749.00" x2="1035.43" y2="744.10" stroke-width="1.3"/><line x1="1068.42" y1="539.50" x2="1068.42" y2="547.60" stroke-width="2.6"/><line x1="1068.42" y1="707.20" x2="1068.42" y2="699.10" stroke-width="2.6"/><line x1="1068.42" y1="707.20" x2="1068.42" y2="715.30" stroke-width="2.6"/><line x1="1068.42" y1="749.00" x2="1068.42" y2="740.90" stroke-width="2.6"/><line x1="1101.41" y1="539.50" x2="1101.41" y2="544.40" stroke-width="1.3"/><line x1="1101.41" y1="707.20" x2="1101.41" y2="702.30" stroke-width="1.3"/><line x1="1101.41" y1="707.20" x2="1101.41" y2="712.10" stroke-width="1.3"/><line x1="1101.41" y1="749.00" x2="1101.41" y2="744.10" stroke-width="1.3"/><line x1="1134.41" y1="539.50" x2="1134.41" y2="544.40" stroke-width="1.3"/><line x1="1134.41" y1="707.20" x2="1134.41" y2="702.30" stroke-width="1.3"/><line x1="1134.41" y1="707.20" x2="1134.41" y2="712.10" stroke-width="1.3"/><line x1="1134.41" y1="749.00" x2="1134.41" y2="744.10" stroke-width="1.3"/><line x1="1167.40" y1="539.50" x2="1167.40" y2="544.40" stroke-width="1.3"/><line x1="1167.40" y1="707.20" x2="1167.40" y2="702.30" stroke-width="1.3"/><line x1="1167.40" y1="707.20" x2="1167.40" y2="712.10" stroke-width="1.3"/><line x1="1167.40" y1="749.00" x2="1167.40" y2="744.10" stroke-width="1.3"/><line x1="1200.40" y1="539.50" x2="1200.40" y2="544.40" stroke-width="1.3"/><line x1="1200.40" y1="707.20" x2="1200.40" y2="702.30" stroke-width="1.3"/><line x1="1200.40" y1="707.20" x2="1200.40" y2="712.10" stroke-width="1.3"/><line x1="1200.40" y1="749.00" x2="1200.40" y2="744.10" stroke-width="1.3"/><line x1="78.60" y1="707.00" x2="86.70" y2="707.00" stroke-width="2.6"/><line x1="1200.40" y1="707.00" x2="1192.30" y2="707.00" stroke-width="2.6"/><line x1="78.60" y1="699.38" x2="83.50" y2="699.38" stroke-width="1.3"/><line x1="1200.40" y1="699.38" x2="1195.50" y2="699.38" stroke-width="1.3"/><line x1="78.60" y1="691.75" x2="83.50" y2="691.75" stroke-width="1.3"/><line x1="1200.40" y1="691.75" x2="1195.50" y2="691.75" stroke-width="1.3"/><line x1="78.60" y1="684.12" x2="83.50" y2="684.12" stroke-width="1.3"/><line x1="1200.40" y1="684.12" x2="1195.50" y2="684.12" stroke-width="1.3"/><line x1="78.60" y1="676.50" x2="86.70" y2="676.50" stroke-width="2.6"/><line x1="1200.40" y1="676.50" x2="1192.30" y2="676.50" stroke-width="2.6"/><line x1="78.60" y1="668.88" x2="83.50" y2="668.88" stroke-width="1.3"/><line x1="1200.40" y1="668.88" x2="1195.50" y2="668.88" stroke-width="1.3"/><line x1="78.60" y1="661.25" x2="83.50" y2="661.25" stroke-width="1.3"/><line x1="1200.40" y1="661.25" x2="1195.50" y2="661.25" stroke-width="1.3"/><line x1="78.60" y1="653.62" x2="83.50" y2="653.62" stroke-width="1.3"/><line x1="1200.40" y1="653.62" x2="1195.50" y2="653.62" stroke-width="1.3"/><line x1="78.60" y1="646.00" x2="86.70" y2="646.00" stroke-width="2.6"/><line x1="1200.40" y1="646.00" x2="1192.30" y2="646.00" stroke-width="2.6"/><line x1="78.60" y1="638.38" x2="83.50" y2="638.38" stroke-width="1.3"/><line x1="1200.40" y1="638.38" x2="1195.50" y2="638.38" stroke-width="1.3"/><line x1="78.60" y1="630.75" x2="83.50" y2="630.75" stroke-width="1.3"/><line x1="1200.40" y1="630.75" x2="1195.50" y2="630.75" stroke-width="1.3"/><line x1="78.60" y1="623.12" x2="83.50" y2="623.12" stroke-width="1.3"/><line x1="1200.40" y1="623.12" x2="1195.50" y2="623.12" stroke-width="1.3"/><line x1="78.60" y1="615.50" x2="86.70" y2="615.50" stroke-width="2.6"/><line x1="1200.40" y1="615.50" x2="1192.30" y2="615.50" stroke-width="2.6"/><line x1="78.60" y1="607.88" x2="83.50" y2="607.88" stroke-width="1.3"/><line x1="1200.40" y1="607.88" x2="1195.50" y2="607.88" stroke-width="1.3"/><line x1="78.60" y1="600.25" x2="83.50" y2="600.25" stroke-width="1.3"/><line x1="1200.40" y1="600.25" x2="1195.50" y2="600.25" stroke-width="1.3"/><line x1="78.60" y1="592.62" x2="83.50" y2="592.62" stroke-width="1.3"/><line x1="1200.40" y1="592.62" x2="1195.50" y2="592.62" stroke-width="1.3"/><line x1="78.60" y1="585.00" x2="86.70" y2="585.00" stroke-width="2.6"/><line x1="1200.40" y1="585.00" x2="1192.30" y2="585.00" stroke-width="2.6"/><line x1="78.60" y1="577.38" x2="83.50" y2="577.38" stroke-width="1.3"/><line x1="1200.40" y1="577.38" x2="1195.50" y2="577.38" stroke-width="1.3"/><line x1="78.60" y1="569.75" x2="83.50" y2="569.75" stroke-width="1.3"/><line x1="1200.40" y1="569.75" x2="1195.50" y2="569.75" stroke-width="1.3"/><line x1="78.60" y1="562.12" x2="83.50" y2="562.12" stroke-width="1.3"/><line x1="1200.40" y1="562.12" x2="1195.50" y2="562.12" stroke-width="1.3"/><line x1="78.60" y1="554.50" x2="86.70" y2="554.50" stroke-width="2.6"/><line x1="1200.40" y1="554.50" x2="1192.30" y2="554.50" stroke-width="2.6"/><line x1="78.60" y1="546.88" x2="83.50" y2="546.88" stroke-width="1.3"/><line x1="1200.40" y1="546.88" x2="1195.50" y2="546.88" stroke-width="1.3"/><line x1="78.60" y1="746.06" x2="83.50" y2="746.06" stroke-width="1.3"/><line x1="1200.40" y1="746.06" x2="1195.50" y2="746.06" stroke-width="1.3"/><line x1="78.60" y1="743.84" x2="83.50" y2="743.84" stroke-width="1.3"/><line x1="1200.40" y1="743.84" x2="1195.50" y2="743.84" stroke-width="1.3"/><line x1="78.60" y1="741.62" x2="83.50" y2="741.62" stroke-width="1.3"/><line x1="1200.40" y1="741.62" x2="1195.50" y2="741.62" stroke-width="1.3"/><line x1="78.60" y1="739.40" x2="86.70" y2="739.40" stroke-width="2.6"/><line x1="1200.40" y1="739.40" x2="1192.30" y2="739.40" stroke-width="2.6"/><line x1="78.60" y1="737.18" x2="83.50" y2="737.18" stroke-width="1.3"/><line x1="1200.40" y1="737.18" x2="1195.50" y2="737.18" stroke-width="1.3"/><line x1="78.60" y1="734.96" x2="83.50" y2="734.96" stroke-width="1.3"/><line x1="1200.40" y1="734.96" x2="1195.50" y2="734.96" stroke-width="1.3"/><line x1="78.60" y1="732.74" x2="83.50" y2="732.74" stroke-width="1.3"/><line x1="1200.40" y1="732.74" x2="1195.50" y2="732.74" stroke-width="1.3"/><line x1="78.60" y1="730.52" x2="83.50" y2="730.52" stroke-width="1.3"/><line x1="1200.40" y1="730.52" x2="1195.50" y2="730.52" stroke-width="1.3"/><line x1="78.60" y1="728.30" x2="86.70" y2="728.30" stroke-width="2.6"/><line x1="1200.40" y1="728.30" x2="1192.30" y2="728.30" stroke-width="2.6"/><line x1="78.60" y1="726.08" x2="83.50" y2="726.08" stroke-width="1.3"/><line x1="1200.40" y1="726.08" x2="1195.50" y2="726.08" stroke-width="1.3"/><line x1="78.60" y1="723.86" x2="83.50" y2="723.86" stroke-width="1.3"/><line x1="1200.40" y1="723.86" x2="1195.50" y2="723.86" stroke-width="1.3"/><line x1="78.60" y1="721.64" x2="83.50" y2="721.64" stroke-width="1.3"/><line x1="1200.40" y1="721.64" x2="1195.50" y2="721.64" stroke-width="1.3"/><line x1="78.60" y1="719.42" x2="83.50" y2="719.42" stroke-width="1.3"/><line x1="1200.40" y1="719.42" x2="1195.50" y2="719.42" stroke-width="1.3"/><line x1="78.60" y1="717.20" x2="86.70" y2="717.20" stroke-width="2.6"/><line x1="1200.40" y1="717.20" x2="1192.30" y2="717.20" stroke-width="2.6"/><line x1="78.60" y1="714.98" x2="83.50" y2="714.98" stroke-width="1.3"/><line x1="1200.40" y1="714.98" x2="1195.50" y2="714.98" stroke-width="1.3"/><line x1="78.60" y1="712.76" x2="83.50" y2="712.76" stroke-width="1.3"/><line x1="1200.40" y1="712.76" x2="1195.50" y2="712.76" stroke-width="1.3"/><line x1="78.60" y1="710.54" x2="83.50" y2="710.54" stroke-width="1.3"/><line x1="1200.40" y1="710.54" x2="1195.50" y2="710.54" stroke-width="1.3"/><line x1="78.60" y1="708.32" x2="83.50" y2="708.32" stroke-width="1.3"/><line x1="1200.40" y1="708.32" x2="1195.50" y2="708.32" stroke-width="1.3"/></g>
<g fill="none" stroke="#000" stroke-width="3.0"><rect x="78.6" y="539.5" width="1121.8000000000002" height="167.70000000000005"/><rect x="78.6" y="707.2" width="1121.8000000000002" height="41.799999999999955"/></g>
<g font-family="'DejaVu Sans','Liberation Sans',sans-serif" font-size="20.2" fill="#000">
<text x="79.2" y="770.9" text-anchor="middle">54190</text>
<text x="244.2" y="770.9" text-anchor="middle">54200</text>
<text x="409.1" y="770.9" text-anchor="middle">54210</text>
<text x="574.1" y="770.9" text-anchor="middle">54220</text>
<text x="739.1" y="770.9" text-anchor="middle">54230</text>
<text x="904.1" y="770.9" text-anchor="middle">54240</text>
<text x="1069.0" y="770.9" text-anchor="middle">54250</text>
<text x="75.2" y="712.6" text-anchor="end">0.0</text>
<text x="75.2" y="682.1" text-anchor="end">0.2</text>
<text x="75.2" y="651.6" text-anchor="end">0.4</text>
<text x="75.2" y="621.1" text-anchor="end">0.6</text>
<text x="75.2" y="590.6" text-anchor="end">0.8</text>
<text x="75.2" y="560.1" text-anchor="end">1.0</text>
<text x="75.2" y="722.1" text-anchor="end">0.1</text>
<text x="75.2" y="733.2" text-anchor="end">0.0</text>
<text x="75.2" y="744.3" text-anchor="end">−0.1</text>
<text x="640.3" y="798.6" text-anchor="middle" textLength="218.5" lengthAdjust="spacing">HJD - 2450000 [Days]</text>
<text transform="translate(30.2,623.3) rotate(-90)" text-anchor="middle">Normalized Intensity</text>
<text transform="translate(14.4,726.6) rotate(-90)" text-anchor="middle">Error</text>
</g>
</svg>
</body></html>
